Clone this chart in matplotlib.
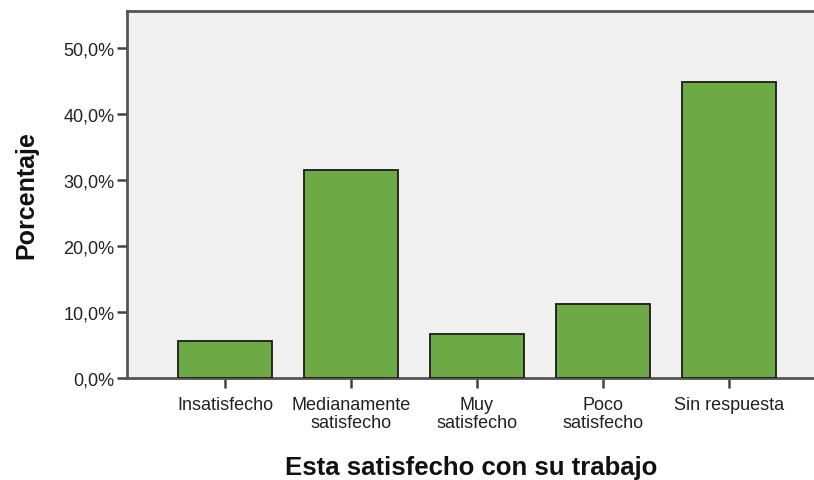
import matplotlib
matplotlib.use("Agg")
import matplotlib.pyplot as plt
from matplotlib.ticker import FuncFormatter

categories = ["Insatisfecho", "Medianamente\nsatisfecho", "Muy\nsatisfecho", "Poco\nsatisfecho", "Sin respuesta"]
percentages = [5.6, 31.5, 6.7, 11.2, 44.9]
yticks = [0, 10, 20, 30, 40, 50]

plt.rcParams['font.family'] = ['Liberation Sans', 'DejaVu Sans']

fig = plt.figure(figsize=(8.14, 4.81), dpi=100)
ax = fig.add_axes([127/814, 1 - 379/481, 1 - 127/814 + 0.002, (379 - 12)/481])
ax.set_facecolor("#F0F0F0")

x = list(range(len(categories)))
ax.bar(x, percentages, width=0.75, color="#6DAA45", edgecolor="#1A1A1A", linewidth=1.3, zorder=3)

ax.set_xlim(-0.778, 4.69)
ax.set_ylim(0, 55.6)
ax.set_yticks(yticks)
ax.yaxis.set_major_formatter(FuncFormatter(lambda v, p: f"{v:.1f}%".replace(".", ",")))
ax.set_xticks(x)
ax.set_xticklabels(categories, fontsize=13, color="#222222", linespacing=1.1)
ax.tick_params(axis='y', labelsize=13, colors="#222222", length=7, width=1.8, color="#444444", pad=2)
ax.tick_params(axis='x', length=7, width=1.8, color="#444444", pad=6)

for side in ["left", "top", "bottom"]:
    ax.spines[side].set_color("#555555")
    ax.spines[side].set_linewidth(2)
ax.spines["right"].set_visible(False)

ax.set_xlabel("Esta satisfecho con su trabajo", fontsize=18.5, fontweight="bold", labelpad=17, color="#111111")
ax.set_ylabel("Porcentaje", fontsize=18, fontweight="bold", labelpad=18, color="#111111")

fig.savefig("out.png", dpi=100)
